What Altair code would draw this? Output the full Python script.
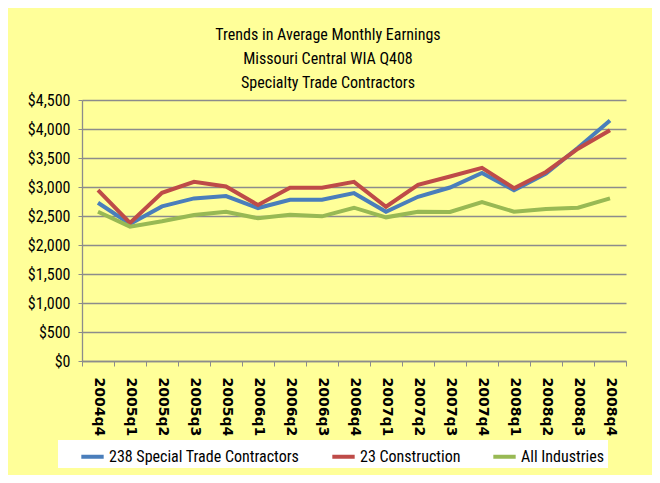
import altair as alt
import pandas as pd

quarters = ["2004q4", "2005q1", "2005q2", "2005q3", "2005q4", "2006q1", "2006q2",
            "2006q3", "2006q4", "2007q1", "2007q2", "2007q3", "2007q4", "2008q1",
            "2008q2", "2008q3", "2008q4"]
special_trade = [2729, 2363, 2666, 2803, 2843, 2637, 2780, 2780, 2894, 2574, 2831,
                 2991, 3243, 2946, 3231, 3677, 4146]
construction = [2946, 2380, 2900, 3089, 3009, 2689, 2986, 2986, 3089, 2660, 3037,
                3180, 3329, 2980, 3260, 3660, 3980]
all_industries = [2574, 2317, 2409, 2517, 2574, 2460, 2523, 2494, 2643, 2477, 2574,
                  2569, 2740, 2574, 2620, 2643, 2803]
series_names = ["238 Special Trade Contractors", "23 Construction", "All Industries"]
series_colors = ["#4A7EBB", "#BE4B48", "#98B954"]
title_lines = ["Trends in Average Monthly Earnings", "Missouri Central WIA Q408",
               "Specialty Trade Contractors"]

rows = []
for name, vals in zip(series_names, [special_trade, construction, all_industries]):
    for q, v in zip(quarters, vals):
        rows.append({"Quarter": q, "Series": name, "Earnings": v})
df = pd.DataFrame(rows)

FONT = "Liberation Sans Narrow, Arial Narrow, Roboto Condensed, Liberation Sans, sans-serif"

chart = alt.Chart(df).mark_line(strokeWidth=4).encode(
    x=alt.X("Quarter:N", sort=quarters, title=None,
            scale=alt.Scale(paddingInner=0, paddingOuter=0),
            axis=alt.Axis(labelAngle=90, labelFont="DejaVu Sans", labelFontWeight="bold",
                          labelFontSize=14, labelColor="#000000", labelPadding=11,
                          tickBand="extent", tickSize=5, tickColor="#8C8C8C",
                          domainColor="#8C8C8C", domainWidth=1.3, grid=False)),
    y=alt.Y("Earnings:Q", title=None,
            scale=alt.Scale(domain=[0, 4500], nice=False),
            axis=alt.Axis(values=list(range(0, 4501, 500)), format="$,.0f",
                          labelFont=FONT, labelFontSize=16, labelColor="#000000",
                          labelPadding=8, tickSize=4, tickColor="#8C8C8C",
                          domainColor="#8C8C8C", domainWidth=1.3,
                          grid=True, gridColor="#8C8C8C", gridWidth=1.3)),
    color=alt.Color("Series:N", sort=series_names,
                    scale=alt.Scale(domain=series_names, range=series_colors),
                    legend=alt.Legend(title=None, orient="none", direction="horizontal",
                                      legendX=-24, legendY=340,
                                      fillColor="#FFFFFF", padding=3,
                                      symbolType="stroke", symbolStrokeWidth=4,
                                      symbolSize=500, symbolOffset=18,
                                      labelFont=FONT, labelFontSize=16, labelLimit=400,
                                      labelColor="#000000", labelOffset=3,
                                      columnPadding=12)),
    order=alt.Order("Series:N", sort="ascending"),
).properties(
    width=544, height=261,
    padding={"left": 74, "top": 92, "right": 26, "bottom": 114},
    autosize=alt.AutoSizeParams(type="none"),
    background="#FFFF99",
    title=alt.TitleParams(text=title_lines, anchor="middle", dx=-26, offset=1,
                          font=FONT, fontSize=16, fontWeight="normal",
                          lineHeight=24, color="#000000"),
).configure_view(stroke=None)

chart.save("out.html", embed_options={"renderer": "svg", "actions": False})
